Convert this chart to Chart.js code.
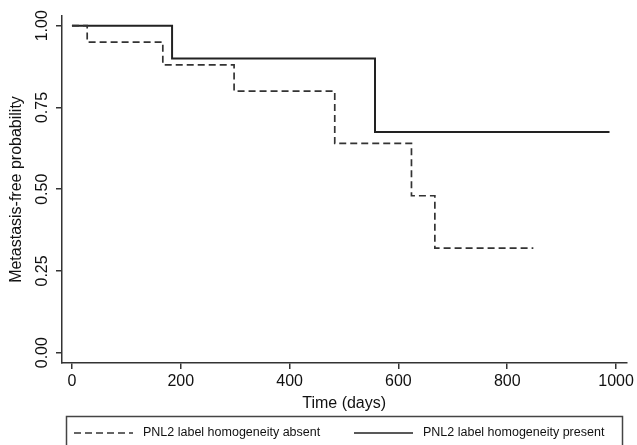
<!DOCTYPE html>
<html>
<head>
<meta charset="utf-8">
<script src="https://cdn.jsdelivr.net/npm/chart.js@4/dist/chart.umd.min.js"></script>
<style>
  body { margin: 0; background: #fff; }
  #wrap { width: 637px; height: 445px; }
</style>
</head>
<body>
<div id="wrap"><canvas id="kmChart" width="637" height="445"></canvas></div>
<script>
// Kaplan-Meier steps (days, probability after the drop)
const absentDays = [0, 28, 167, 298, 483, 624, 667, 848];
const absentProb = [1, 0.95, 0.88, 0.80, 0.64, 0.48, 0.32, 0.32];
const presentDays = [0, 184, 557, 988];
const presentProb = [1, 0.90, 0.675, 0.675];

const xTicks = [0, 200, 400, 600, 800, 1000];
const yTicks = [0, 0.25, 0.5, 0.75, 1];
const yTickLabels = ['0.00', '0.25', '0.50', '0.75', '1.00'];
const seriesLabels = ['PNL2 label homogeneity absent', 'PNL2 label homogeneity present'];

const FONT = '"Liberation Sans", Arial, Helvetica, sans-serif';
const ink = '#222';

const toPoints = (xs, ys) => xs.map((x, i) => ({ x: x, y: ys[i] }));

// y tick labels are rotated like the Stata original
const rotatedYLabels = {
  id: 'rotatedYLabels',
  afterDraw: (chart) => {
    const ctx = chart.ctx;
    const y = chart.scales.y;
    ctx.save();
    ctx.fillStyle = '#111';
    ctx.font = `16px ${FONT}`;
    ctx.textAlign = 'center';
    ctx.textBaseline = 'middle';
    yTicks.forEach((v, i) => {
      ctx.save();
      ctx.translate(43, y.getPixelForValue(v));
      ctx.rotate(-Math.PI / 2);
      ctx.fillText(yTickLabels[i], 0, 0);
      ctx.restore();
    });
    ctx.restore();
  }
};

// boxed legend under the axis
const boxLegend = {
  id: 'boxLegend',
  afterDraw: (chart) => {
    const ctx = chart.ctx;
    ctx.save();
    ctx.strokeStyle = '#444';
    ctx.lineWidth = 1.5;
    ctx.strokeRect(66.5, 416.5, 556, 40);

    ctx.lineWidth = 1.7;
    ctx.strokeStyle = '#333';
    ctx.setLineDash([7, 4]);
    ctx.beginPath();
    ctx.moveTo(74, 433);
    ctx.lineTo(133, 433);
    ctx.stroke();

    ctx.setLineDash([]);
    ctx.strokeStyle = ink;
    ctx.beginPath();
    ctx.moveTo(354, 433);
    ctx.lineTo(413, 433);
    ctx.stroke();

    ctx.fillStyle = '#111';
    ctx.font = `12.5px ${FONT}`;
    ctx.textAlign = 'left';
    ctx.textBaseline = 'middle';
    ctx.fillText(seriesLabels[0], 143, 433);
    ctx.fillText(seriesLabels[1], 423, 433);
    ctx.restore();
  }
};

new Chart(document.getElementById('kmChart'), {
  type: 'line',
  data: {
    datasets: [{
      label: seriesLabels[0],
      data: toPoints(absentDays, absentProb),
      borderColor: '#333',
      borderWidth: 1.7,
      borderDash: [7, 4],
      stepped: 'before',
      pointRadius: 0,
      fill: false
    }, {
      label: seriesLabels[1],
      data: toPoints(presentDays, presentProb),
      borderColor: ink,
      borderWidth: 2,
      stepped: 'before',
      pointRadius: 0,
      fill: false
    }]
  },
  options: {
    responsive: false,
    animation: false,
    layout: { padding: { left: 0, top: 16, right: 9, bottom: 0 } },
    plugins: {
      legend: { display: false },
      tooltip: { enabled: false }
    },
    scales: {
      x: {
        type: 'linear',
        min: -18.3,
        max: 1018.9,
        afterBuildTicks: (scale) => { scale.ticks = xTicks.map(v => ({ value: v })); },
        afterFit: (scale) => { scale.height = 82; },
        grid: { display: true, drawOnChartArea: false, drawTicks: true, tickLength: 6, color: '#333', lineWidth: 1.5 },
        border: { display: true, color: '#333', width: 1.5 },
        ticks: { color: '#111', font: { family: FONT, size: 16 }, padding: 3, maxRotation: 0, callback: (v) => String(v) },
        title: { display: true, text: 'Time (days)', color: '#111', font: { family: FONT, size: 16 }, padding: { top: 0, bottom: 32 } }
      },
      y: {
        min: -0.0315,
        max: 1.0297,
        afterBuildTicks: (scale) => { scale.ticks = yTicks.map(v => ({ value: v })); },
        afterFit: (scale) => { scale.width = 62; },
        grid: { display: true, drawOnChartArea: false, drawTicks: true, tickLength: 6, color: '#333', lineWidth: 1.5 },
        border: { display: true, color: '#333', width: 1.5 },
        ticks: { display: false },
        title: { display: true, text: 'Metastasis-free probability', color: '#111', font: { family: FONT, size: 16 }, padding: { top: 7, bottom: 0 } }
      }
    }
  },
  plugins: [rotatedYLabels, boxLegend]
});
</script>
</body>
</html>
